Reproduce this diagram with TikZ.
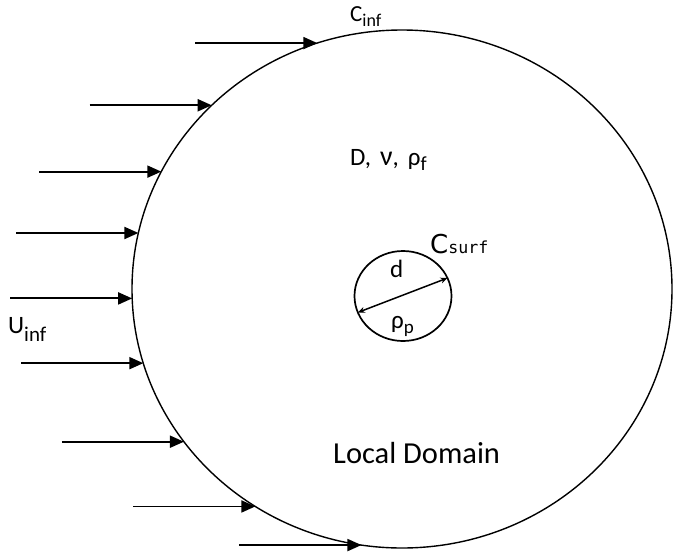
\documentclass[tikz,border=0pt]{standalone}
\usepackage{fontspec}
\setmainfont{Carlito}
\newfontfamily\roundsans{DejaVu Sans}
\newfontfamily\monosans{DejaVu Sans Mono}
\usetikzlibrary{shapes.geometric,arrows.meta,calc}

% lowered, resized subscript text: size, drop, text
\newcommand\subtxt[3]{\raisebox{-#2}{\fontsize{#1}{#1}\selectfont #3}}

\begin{document}
\begin{tikzpicture}[x=1pt,y=-1pt,
  boundary/.style={ellipse, draw, line width=1.4pt, inner sep=0pt, outer sep=0pt},
  flow/.style={-{Triangle[length=14pt,width=12pt]}, line width=1.9pt},
  diam/.style={{Stealth[length=7pt,width=6pt]}-{Stealth[length=7pt,width=6pt]}, line width=1.5pt},
  lbl/.style={inner sep=0pt, anchor=base west}]
\useasboundingbox (0,0) rectangle (674,555);

% far-field boundary and the particle
\node[boundary, minimum width=540pt, minimum height=518pt] (dom) at (402,289) {};
\node[boundary, line width=1.7pt, minimum width=97pt, minimum height=90pt] (part) at (403,296) {};

% diameter of the particle
\draw[diam] (part.200) -- (part.22);

% incoming uniform flow
\foreach \a [count=\i] in {109.3,136.9,154.3,168.7,182.5,196.6,215.4,236.7,261.3} {
  \coordinate (tail\i) at ($(dom.\a)+(-122,0)$);
  \draw[flow] (tail\i) -- (dom.\a);
}

% labels
\node[lbl] (cinf) at (350,21) {\fontsize{23}{23}\selectfont C\subtxt{18}{5pt}{inf}};
\node[lbl] (uinf) at (8,333) {\fontsize{25}{25}\selectfont U\subtxt{21}{8pt}{inf}};
\node[lbl] (props) at (350,165) {\fontsize{25}{25}\selectfont D,\kern9pt {\fontsize{28}{28}\selectfont ν},\kern9pt ρ\subtxt{20}{5pt}{f}};
\node[lbl] (csurf) at (430,253) {\roundsans\fontsize{26}{26}\selectfont C\monosans\fontsize{16.6}{16.6}\selectfont surf};
\node[lbl] (dlbl) at (390,277) {\fontsize{25}{25}\selectfont d};
\node[lbl] (rhop) at (391,328) {\fontsize{25}{25}\selectfont ρ\subtxt{19}{5pt}{p}};
\node[lbl] (local) at (333,463) {\fontsize{30.5}{30.5}\selectfont Local Domain};
\end{tikzpicture}
\end{document}
